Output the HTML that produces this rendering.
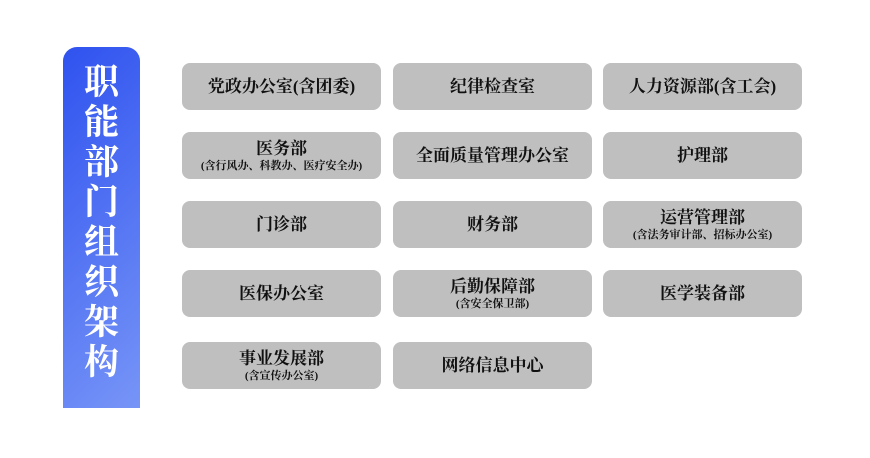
<!DOCTYPE html>
<html><head><meta charset="utf-8"><style>
body{margin:0;width:870px;height:458px;background:#fff;position:relative;overflow:hidden;font-family:"Liberation Serif","Noto Serif CJK SC",serif}
.bar{position:absolute;left:63px;top:47px;width:77px;height:361px;border-radius:14px 14px 0 0;background:linear-gradient(135deg,#2f52ef,#7795f7);color:#fff;font-weight:bold;font-size:35px;line-height:40px;text-align:center;padding-top:16px;box-sizing:border-box}
.b{position:absolute;width:199px;height:47px;background:#bfbfbf;border-radius:8px;display:flex;flex-direction:column;justify-content:center;align-items:center;color:#111;font-weight:bold;font-size:17px;line-height:20px}
.b small{font-size:11px;line-height:14px;font-weight:bold}
</style></head><body>
<div class="bar">职<br>能<br>部<br>门<br>组<br>织<br>架<br>构</div>
<div class="b" style="left:182px;top:63px">党政办公室(含团委)</div>
<div class="b" style="left:393px;top:63px">纪律检查室</div>
<div class="b" style="left:603px;top:63px">人力资源部(含工会)</div>
<div class="b" style="left:182px;top:132px">医务部<small>(含行风办、科教办、医疗安全办)</small></div>
<div class="b" style="left:393px;top:132px">全面质量管理办公室</div>
<div class="b" style="left:603px;top:132px">护理部</div>
<div class="b" style="left:182px;top:201px">门诊部</div>
<div class="b" style="left:393px;top:201px">财务部</div>
<div class="b" style="left:603px;top:201px">运营管理部<small>(含法务审计部、招标办公室)</small></div>
<div class="b" style="left:182px;top:270px">医保办公室</div>
<div class="b" style="left:393px;top:270px">后勤保障部<small>(含安全保卫部)</small></div>
<div class="b" style="left:603px;top:270px">医学装备部</div>
<div class="b" style="left:182px;top:342px">事业发展部<small>(含宣传办公室)</small></div>
<div class="b" style="left:393px;top:342px">网络信息中心</div>
</body></html>
